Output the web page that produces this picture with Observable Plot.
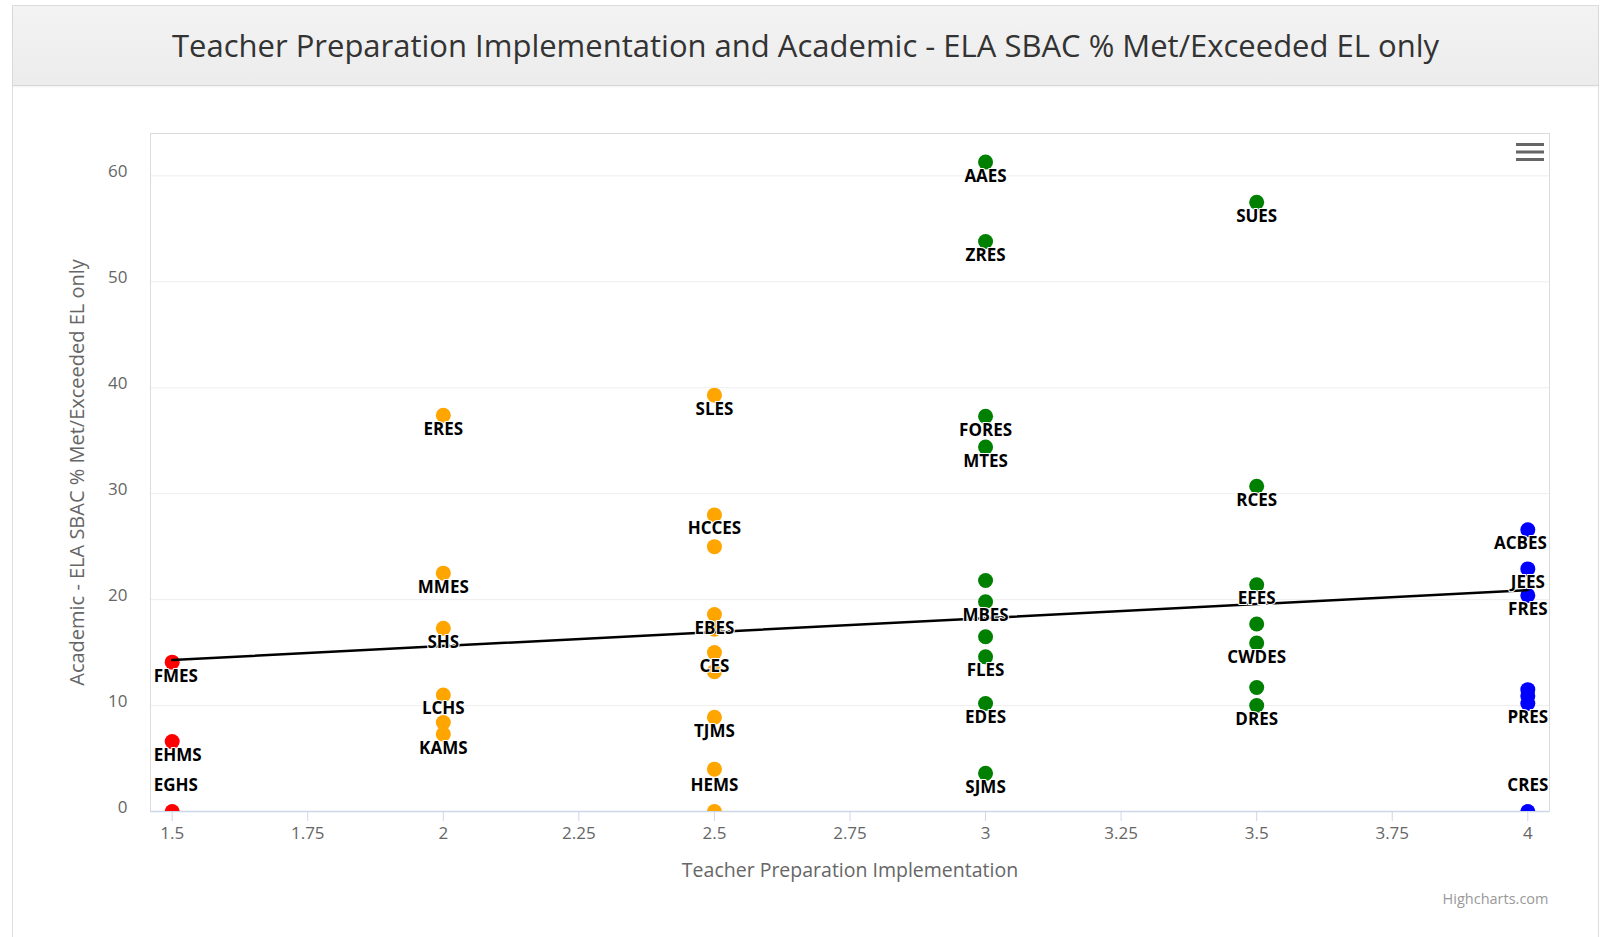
<!DOCTYPE html>
<html>
<head>
<meta charset="utf-8">
<script src="https://cdn.jsdelivr.net/npm/d3@7"></script>
<script src="https://cdn.jsdelivr.net/npm/@observablehq/plot@0.6"></script>
<style>
  html, body { margin: 0; padding: 0; background: #ffffff; }
  body { width: 1602px; height: 937px; position: relative; overflow: hidden; font-family: "Open Sans", sans-serif; }
  #panel { position: absolute; left: 12px; top: 5px; width: 1587px; height: 940px; border: 1px solid #dddddd; background: #ffffff; box-sizing: border-box; }
  #head { position: absolute; left: 0; top: 0; width: 100%; height: 79px; background: linear-gradient(#f3f3f3, #ececec); border-bottom: 1px solid #d6d6d6; box-shadow: 0 1px 2px rgba(0,0,0,0.06); }
  #title { position: absolute; left: 0; top: 0; width: 100%; height: 79px; line-height: 79px; text-align: center; font-size: 31px; color: #333333; }
  #chart { position: absolute; left: 0; top: 0; }
  #menu { position: absolute; left: 1515px; top: 142px; }
</style>
</head>
<body>
<div id="panel"><div id="head"><div id="title">Teacher Preparation Implementation and Academic - ELA SBAC % Met/Exceeded EL only</div></div></div>
<div id="chart"></div>
<svg id="menu" width="30" height="20"><rect x="1" y="1" width="28" height="3" fill="#666"/><rect x="1" y="8.5" width="28" height="3" fill="#666"/><rect x="1" y="16" width="28" height="3" fill="#666"/></svg>
<script>
// School labels ("" = label hidden in the original)
const schools = [
  "FMES", "EHMS", "EGHS",
  "ERES", "MMES", "SHS", "LCHS", "", "KAMS",
  "SLES", "HCCES", "", "EBES", "", "CES", "", "TJMS", "", "HEMS",
  "AAES", "ZRES", "FORES", "MTES", "", "MBES", "", "FLES", "EDES", "SJMS",
  "SUES", "RCES", "EFES", "", "CWDES", "", "DRES",
  "ACBES", "JEES", "FRES", "", "", "PRES", "CRES"
];
// Teacher Preparation Implementation
const tpi = [
  1.5, 1.5, 1.5,
  2, 2, 2, 2, 2, 2,
  2.5, 2.5, 2.5, 2.5, 2.5, 2.5, 2.5, 2.5, 2.5, 2.5,
  3, 3, 3, 3, 3, 3, 3, 3, 3, 3,
  3.5, 3.5, 3.5, 3.5, 3.5, 3.5, 3.5,
  4, 4, 4, 4, 4, 4, 4
];
// Academic - ELA SBAC % Met/Exceeded EL only
const elaPct = [
  14.1, 6.6, 0,
  37.4, 22.5, 17.3, 11.0, 8.4, 7.3,
  39.3, 28.0, 25.0, 18.6, 17.2, 15.0, 13.2, 8.9, 4.0, 0,
  61.3, 53.8, 37.3, 34.4, 21.8, 19.8, 16.5, 14.6, 10.2, 3.6,
  57.5, 30.7, 21.4, 17.7, 15.9, 11.7, 10.0,
  26.6, 22.9, 20.4, 11.5, 10.9, 10.2, 0
];
// Trend line end points
const trendX = [1.5, 4];
const trendY = [14.3, 20.9];
// Ticks
const xTicks = [1.5, 1.75, 2, 2.25, 2.5, 2.75, 3, 3.25, 3.5, 3.75, 4];
const yTicks = [0, 10, 20, 30, 40, 50, 60];
// Colour bands
const bandBreaks = [2, 3, 4];
const bandColors = ["#ff0000", "#ffa500", "#008000", "#0000ff"];

const points = schools.map((s, i) => ({name: s, x: tpi[i], y: elaPct[i]}));
const trend = trendX.map((x, i) => ({x, y: trendY[i]}));
const labeled = points.filter(d => d.name !== "");

// Data-label justification like Highcharts: labels that would overflow the plot edge are shifted inside
const xMin = d3.min(tpi), xMax = d3.max(tpi);
const atLeft = d => d.x === xMin;
const atRight = d => d.x === xMax && d.name.length >= 5;
const anchorOf = d => atLeft(d) ? "start" : atRight(d) ? "end" : "middle";

const fmt = d => String(d);
const labelStyle = {x: "x", y: "y", text: "name", fontSize: 17, fontWeight: "bold", fill: "#000000", stroke: "#ffffff", strokeWidth: 2, letterSpacing: "-0.6px"};
const shifts = {start: {textAnchor: "start", dx: -18.5}, middle: {textAnchor: "middle", dx: 0}, end: {textAnchor: "end", dx: 19}};

const labelMarks = [];
for (const a of ["start", "middle", "end"]) {
  const group = labeled.filter(d => anchorOf(d) === a);
  labelMarks.push(Plot.text(group.filter(d => d.y >= 2), {...labelStyle, ...shifts[a], dy: 14}));
  labelMarks.push(Plot.text(group.filter(d => d.y < 2), {...labelStyle, ...shifts[a], dy: -26}));
}

const chart = Plot.plot({
  width: 1602,
  height: 937,
  marginTop: 133,
  marginBottom: 126,
  marginLeft: 150,
  marginRight: 53,
  style: {fontFamily: "'Open Sans', sans-serif", background: "transparent", overflow: "visible"},
  x: {domain: [1.46, 4.04]},
  y: {domain: [0, 64]},
  color: {type: "threshold", domain: bandBreaks, range: bandColors},
  marks: [
    Plot.gridY(yTicks, {stroke: "#eeeeee", strokeOpacity: 1}),
    Plot.frame({stroke: "#dcdcdc"}),
    Plot.axisX(xTicks, {tickSize: 10, tickPadding: 5, stroke: "#ccd6eb", fill: "#666666", fontSize: 17, tickFormat: fmt, label: null}),
    Plot.axisY(yTicks, {tickSize: 0, tickPadding: 23, dy: -4, fill: "#666666", fontSize: 17, tickFormat: fmt, label: null}),
    Plot.ruleY([0], {stroke: "#ccd6eb", strokeWidth: 1.5}),
    Plot.dot(points, {x: "x", y: "y", r: 7.5, fill: "x", clip: true}),
    Plot.line(trend, {x: "x", y: "y", stroke: "#000000", strokeWidth: 2.5}),
    ...labelMarks,
    Plot.text(["Teacher Preparation Implementation"], {frameAnchor: "bottom", lineAnchor: "middle", textAnchor: "middle", dy: 59, fontSize: 19.5, fill: "#666666"}),
    Plot.text(["Academic - ELA SBAC % Met/Exceeded EL only"], {frameAnchor: "left", textAnchor: "middle", lineAnchor: "middle", dx: -73, rotate: -90, fontSize: 20, fill: "#666666"}),
    Plot.text(["Highcharts.com"], {frameAnchor: "bottom-right", textAnchor: "end", lineAnchor: "middle", dx: -1, dy: 88, fontSize: 14.5, fill: "#999999"})
  ]
});
document.getElementById("chart").appendChild(chart);
</script>
</body>
</html>
